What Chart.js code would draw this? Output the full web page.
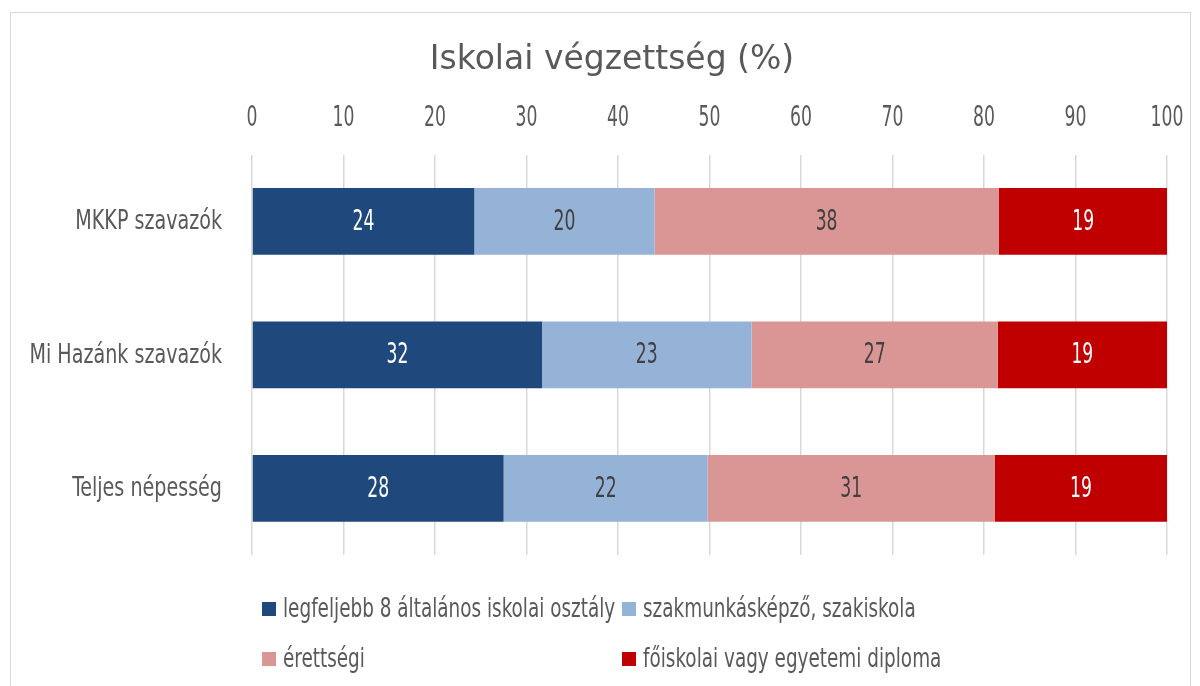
<!DOCTYPE html>
<html><head><meta charset="utf-8">
<script src="https://cdn.jsdelivr.net/npm/chart.js@4/dist/chart.umd.min.js"></script>
<style>
html,body{margin:0;padding:0;background:#fff;}
#wrap{position:relative;width:1200px;height:686px;overflow:hidden;}
#frame{position:absolute;left:10px;top:12px;width:1181px;height:700px;border:1px solid #d9d9d9;box-sizing:border-box;}
canvas{position:absolute;left:0;top:0;}
</style></head><body>
<div id="wrap"><div id="frame"></div><canvas id="c" width="1200" height="686"></canvas></div>
<script>
const categories = ['MKKP szavazók', 'Mi Hazánk szavazók', 'Teljes népesség'];
const seriesNames = ['legfeljebb 8 általános iskolai osztály', 'szakmunkásképző, szakiskola', 'érettségi', 'főiskolai vagy egyetemi diploma'];
const alapfok    = [24.3, 31.7, 27.5];
const szakmunkas = [19.7, 22.9, 22.3];
const erettsegi  = [37.6, 26.9, 31.4];
const diploma    = [18.5, 18.5, 18.8];
const xTicks = [0, 10, 20, 30, 40, 50, 60, 70, 80, 90, 100];

const COND = "'DejaVu Sans Condensed', 'Liberation Sans Narrow', sans-serif";
const colors = ['#1F497D', '#95B3D7', '#DA9694', '#C00000'];
const labelColors = ['#ffffff', '#404040', '#404040', '#ffffff'];
const seriesData = [alapfok, szakmunkas, erettsegi, diploma];

function drawText(ctx, text, x, y, size, sx, align, color) {
  ctx.save();
  ctx.font = size + 'px ' + COND;
  ctx.fillStyle = color;
  ctx.textBaseline = 'middle';
  ctx.textAlign = align;
  ctx.translate(x, y);
  ctx.scale(sx, 1);
  ctx.fillText(text, 0, 0);
  ctx.restore();
}

const textLayer = {
  id: 'textLayer',
  afterDatasetsDraw(chart) {
    const ctx = chart.ctx;
    const xs = chart.scales.x, ys = chart.scales.y;
    // x tick labels (top)
    xs.ticks.forEach(t => {
      drawText(ctx, String(t.value), xs.getPixelForValue(t.value), 118, 29, 0.66, 'center', '#595959');
    });
    // category labels
    chart.data.labels.forEach((lab, j) => {
      drawText(ctx, lab, 222, ys.getPixelForValue(j) + 1, 27, 0.787, 'right', '#595959');
    });
    // value labels
    chart.data.datasets.forEach((ds, i) => {
      const meta = chart.getDatasetMeta(i);
      meta.data.forEach((el, j) => {
        drawText(ctx, String(Math.round(ds.data[j])), (el.x + el.base) / 2, el.y + 1, 29, 0.66, 'center', labelColors[i]);
      });
    });
  },
  afterDraw(chart) {
    const ctx = chart.ctx;
    const colX = [262, 622];
    const rowY = [609, 659];
    chart.data.datasets.forEach((ds, i) => {
      const x = colX[i % 2], y = rowY[Math.floor(i / 2)];
      ctx.fillStyle = ds.backgroundColor;
      ctx.fillRect(x, y - 7, 14, 14);
      drawText(ctx, ds.label, x + 21, y + 1, 26, 0.787, 'left', '#595959');
    });
  }
};

new Chart(document.getElementById('c'), {
  type: 'bar',
  data: {
    labels: categories,
    datasets: seriesNames.map((name, i) => ({
      label: name,
      data: seriesData[i],
      backgroundColor: colors[i],
      borderWidth: 0,
      barPercentage: 0.5,
      categoryPercentage: 1.0
    }))
  },
  options: {
    indexAxis: 'y',
    responsive: false,
    animation: false,
    devicePixelRatio: 1,
    layout: { padding: { left: 57, right: 33, top: 0, bottom: 131 } },
    plugins: {
      legend: { display: false },
      tooltip: { enabled: false },
      title: {
        display: true,
        text: 'Iskolai végzettség (%)',
        color: '#595959',
        font: { family: "'DejaVu Sans', sans-serif", size: 33, weight: 'normal' },
        padding: { top: 41, bottom: 74 }
      }
    },
    scales: {
      x: {
        position: 'top',
        stacked: true,
        min: 0,
        max: 100,
        afterBuildTicks: s => { s.ticks = xTicks.map(v => ({ value: v })); },
        ticks: { display: false },
        grid: { color: '#d9d9d9', lineWidth: 1.5, drawTicks: false },
        border: { display: false }
      },
      y: {
        stacked: true,
        afterFit: s => { s.width = 195; },
        ticks: { display: false },
        grid: { display: false },
        border: { display: false }
      }
    }
  },
  plugins: [textLayer]
});
</script>
</body></html>
